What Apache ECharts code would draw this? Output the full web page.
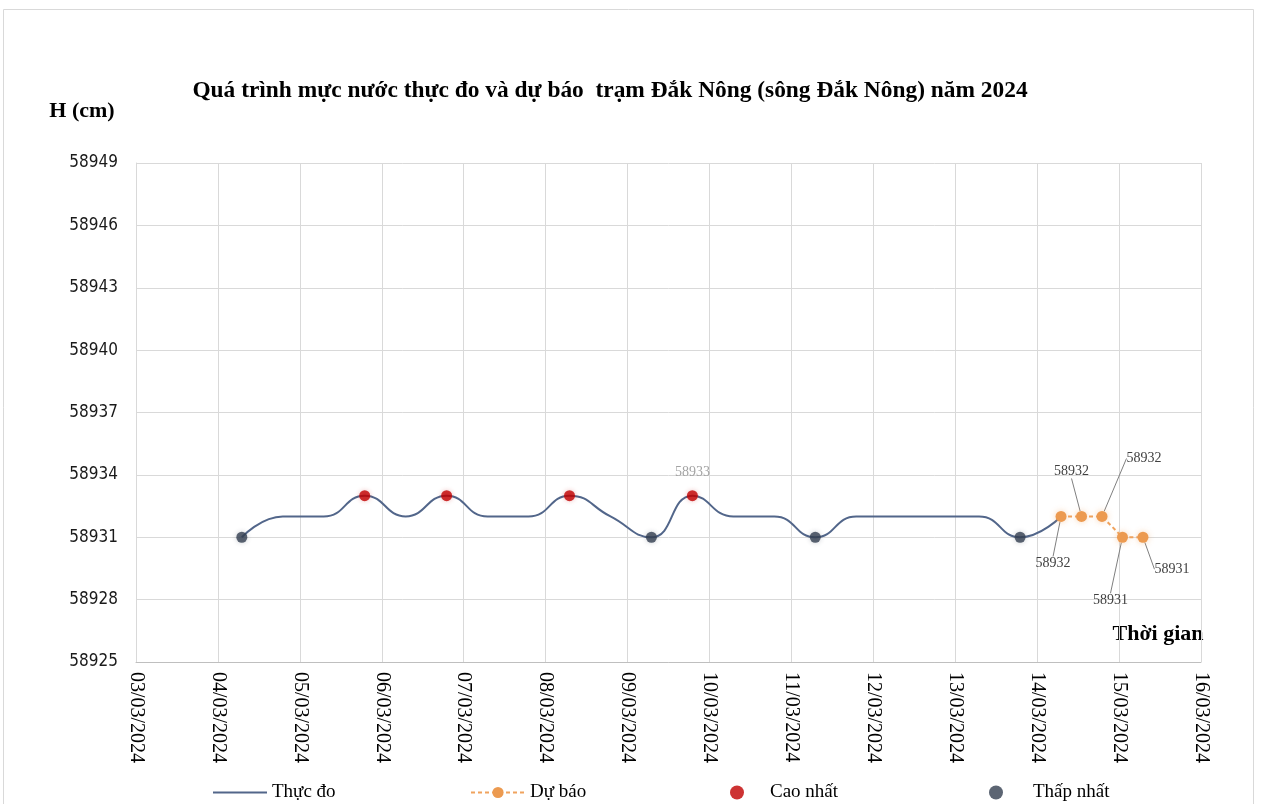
<!DOCTYPE html>
<html><head><meta charset="utf-8">
<script src="https://cdn.jsdelivr.net/npm/echarts@6/dist/echarts.min.js"></script>
<style>html,body{margin:0;padding:0;background:#fff}#c{width:1261px;height:804px}</style>
</head><body><div id="c"></div>
<script>
// ---- data ----
const observedTimes = ['2024-03-04 07:00','2024-03-04 19:00','2024-03-05 07:00','2024-03-05 19:00','2024-03-06 07:00','2024-03-06 19:00','2024-03-07 07:00','2024-03-07 19:00','2024-03-08 07:00','2024-03-08 19:00','2024-03-09 07:00','2024-03-09 19:00','2024-03-10 07:00','2024-03-10 19:00','2024-03-11 07:00','2024-03-11 19:00','2024-03-12 07:00','2024-03-12 19:00','2024-03-13 07:00','2024-03-13 19:00','2024-03-14 07:00'];
const observedValues = [58931,58932,58932,58933,58932,58933,58932,58932,58933,58932,58931,58933,58932,58932,58931,58932,58932,58932,58932,58931,58932];
const forecastTimes = ['2024-03-14 07:00','2024-03-14 13:00','2024-03-14 19:00','2024-03-15 01:00','2024-03-15 07:00'];
const forecastValues = [58932,58932,58932,58931,58931];
const maxTimes = ['2024-03-05 19:00','2024-03-06 19:00','2024-03-08 07:00','2024-03-09 19:00'];
const maxValues = [58933,58933,58933,58933];
const minTimes = ['2024-03-04 07:00','2024-03-09 07:00','2024-03-11 07:00','2024-03-13 19:00'];
const minValues = [58931,58931,58931,58931];
const xStart = '2024-03-03 00:00';
const xEnd = '2024-03-16 00:00';
const yMin = 58925, yMax = 58949, yStep = 3;
const seriesNames = ['Thực đo','Dự báo','Cao nhất','Thấp nhất'];
const titleText = 'Quá trình mực nước thực đo và dự báo  trạm Đắk Nông (sông Đắk Nông) năm 2024';
const yAxisTitle = 'H (cm)';
const xAxisTitle = 'Thời gian';

// ---- styling ----
const fcLabelShift = [[-8,47],[-10,-45],[42,-58],[-12,63],[29,32]];
const serif = "'Liberation Serif','Times New Roman',serif";
const narrow = "'DejaVu Sans Condensed','DejaVu Sans',sans-serif";
const pad = n => (n < 10 ? '0' : '') + n;
const toTs = s => { const [d, t] = s.split(' '); const [Y, M, D] = d.split('-').map(Number); const [h, m] = t.split(':').map(Number); return new Date(Y, M - 1, D, h, m).getTime(); };
const zip = (ts, vs) => ts.map((t, i) => [toTs(t), vs[i]]);
const legendText = {fontFamily: serif, fontSize: 19, color: '#000'};

const chart = echarts.init(document.getElementById('c'), null, {renderer: 'canvas'});
const option = {
  backgroundColor: '#fff',
  animation: false,
  graphic: [
    {type: 'rect', shape: {x: 3.5, y: 9.5, width: 1250, height: 800}, style: {fill: 'none', stroke: '#d9d9d9', lineWidth: 1}, silent: true},
    {type: 'text', x: 610, y: 91, style: {text: titleText, font: "bold 23.4px " + serif, fill: '#000', textAlign: 'center', textVerticalAlign: 'middle'}},
    {type: 'text', x: 82, y: 111, style: {text: yAxisTitle, font: "bold 22px " + serif, fill: '#000', textAlign: 'center', textVerticalAlign: 'middle'}},
    {type: 'text', x: 1158, y: 634, style: {text: xAxisTitle, font: "bold 22px " + serif, fill: '#000', textAlign: 'center', textVerticalAlign: 'middle'}}
  ],
  grid: {left: 136, right: 60, top: 163, bottom: 142, containLabel: false, outerBoundsMode: 'none'},
  xAxis: {
    type: 'time', min: toTs(xStart), max: toTs(xEnd),
    minInterval: 86400000, maxInterval: 86400000, splitNumber: 13,
    axisLine: {show: true, lineStyle: {color: '#bfbfbf', width: 1}},
    axisTick: {show: false},
    splitLine: {show: true, lineStyle: {color: '#d9d9d9', width: 1}},
    axisLabel: {
      rotate: -90, margin: 10, interval: 0, hideOverlap: false, showMinLabel: true, showMaxLabel: true,
      color: '#000', fontFamily: serif, fontSize: 20,
      formatter: v => { const d = new Date(v); return pad(d.getDate()) + '/' + pad(d.getMonth() + 1) + '/' + d.getFullYear(); }
    }
  },
  yAxis: {
    type: 'value', min: yMin, max: yMax, interval: yStep,
    axisLine: {show: true, lineStyle: {color: '#d9d9d9'}},
    axisTick: {show: false},
    splitLine: {show: true, lineStyle: {color: '#d9d9d9', width: 1}},
    axisLabel: {margin: 18, color: '#1a1a1a', fontFamily: narrow, fontSize: 17, formatter: v => String(v)}
  },
  legend: [
    {data: [{name: seriesNames[0], icon: 'rect'}], left: 208, top: 778, itemWidth: 54, itemHeight: 2, textStyle: legendText},
    {data: [seriesNames[1]], left: 465, top: 778, itemWidth: 54, itemHeight: 14, textStyle: legendText},
    {data: [seriesNames[2]], left: 725, top: 778, itemWidth: 28, itemHeight: 14, textStyle: Object.assign({padding: [0,0,0,14]}, legendText)},
    {data: [seriesNames[3]], left: 984, top: 778, itemWidth: 28, itemHeight: 14, textStyle: Object.assign({padding: [0,0,0,18]}, legendText)}
  ],
  series: [
    {
      name: seriesNames[0], type: 'line', smooth: 0.5, symbol: 'none', z: 2,
      lineStyle: {color: '#52668A', width: 2}, itemStyle: {color: '#52668A'},
      data: zip(observedTimes, observedValues)
    },
    {
      name: seriesNames[1], type: 'line', smooth: false, symbol: 'circle', symbolSize: 11, z: 3,
      lineStyle: {color: '#F0A35E', width: 2, type: [4, 3]},
      itemStyle: {color: '#EC9A50', shadowBlur: 6, shadowColor: 'rgba(240,160,90,0.45)'},
      label: {show: true, position: 'inside', fontFamily: serif, fontSize: 14, color: '#404040'},
      labelLine: {show: true, lineStyle: {color: '#7f7f7f', width: 1}},
      labelLayout: p => ({dx: fcLabelShift[p.dataIndex][0], dy: fcLabelShift[p.dataIndex][1]}),
      data: zip(forecastTimes, forecastValues)
    },
    {
      name: seriesNames[2], type: 'scatter', symbol: 'circle', symbolSize: 11, z: 4,
      itemStyle: {color: '#C00000', shadowBlur: 5, shadowColor: 'rgba(192,0,0,0.3)'},
      data: zip(maxTimes, maxValues).map((d, i) => i === maxTimes.length - 1
        ? {value: d, label: {show: true, position: 'top', distance: 11, fontFamily: serif, fontSize: 14, color: '#8c8c8c'}}
        : d)
    },
    {
      name: seriesNames[3], type: 'scatter', symbol: 'circle', symbolSize: 11, z: 4,
      itemStyle: {color: '#333F50', shadowBlur: 5, shadowColor: 'rgba(50,60,80,0.3)'},
      data: zip(minTimes, minValues)
    }
  ]
};
chart.setOption(option);
</script>
</body></html>
